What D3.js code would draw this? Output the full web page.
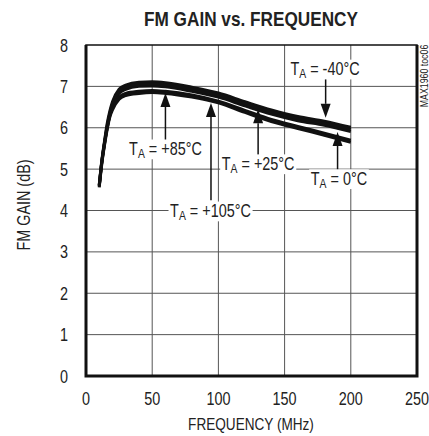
<!DOCTYPE html>
<html>
<head>
<meta charset="utf-8">
<script src="https://cdn.jsdelivr.net/npm/d3@7"></script>
<style>
  body { margin: 0; background: #fff; }
  text { font-family: "Liberation Sans", Arial, sans-serif; fill: #222; }
</style>
</head>
<body>
<div class="chart"></div>
<script>
// chart data
var freq = [10, 12, 14, 16, 18, 20, 25, 30, 40, 50, 60, 80, 100, 120, 140, 160, 180, 200];
var gainM40 = [4.62, 5.22, 5.68, 6.1, 6.4, 6.63, 6.93, 7.03, 7.1, 7.11, 7.09, 6.98, 6.84, 6.63, 6.43, 6.27, 6.16, 6.01];
var gain0 = [4.58, 5.18, 5.62, 6.0, 6.3, 6.53, 6.83, 6.93, 7.0, 7.01, 6.99, 6.88, 6.74, 6.53, 6.33, 6.17, 6.06, 5.91];
var gain25 = [4.6, 5.2, 5.65, 6.05, 6.35, 6.58, 6.88, 6.98, 7.05, 7.06, 7.04, 6.93, 6.79, 6.58, 6.38, 6.22, 6.11, 5.96];
var gain85 = [4.6, 5.18, 5.62, 6.0, 6.3, 6.48, 6.74, 6.83, 6.88, 6.9, 6.88, 6.79, 6.64, 6.42, 6.2, 6.03, 5.87, 5.7];
var gain105 = [4.56, 5.14, 5.58, 5.96, 6.26, 6.43, 6.69, 6.78, 6.83, 6.85, 6.83, 6.74, 6.6, 6.37, 6.15, 5.98, 5.82, 5.65];

var xTicks = [0, 50, 100, 150, 200, 250];
var yTicks = [0, 1, 2, 3, 4, 5, 6, 7, 8];

// temperature labels: label text, label centre (MHz, dB), arrow x (MHz), arrow tail and tip (dB)
var labelTemp = ["-40°C", "+85°C", "+25°C", "0°C", "+105°C"];
var labelX = [180.5, 60, 130, 191, 94];
var labelY = [7.27, 5.34, 4.98, 4.62, 3.84];
var arrowX = [181, 60, 130, 190, 94.4];
var arrowTail = [7.18, 5.7, 5.32, 4.95, 4.25];
var arrowTip = [6.24, 6.84, 6.45, 5.9, 6.6];

var svgWidth = 429, svgHeight = 436;
var margin = { top: 45, right: 12, bottom: 60, left: 86 };
var width = svgWidth - margin.left - margin.right;
var height = svgHeight - margin.top - margin.bottom;
var narrow = 0.8;  // squeeze glyphs to look like a condensed face

var svg = d3.select(".chart").append("svg")
  .attr("width", svgWidth)
  .attr("height", svgHeight);

var chart = svg.append("g")
  .attr("transform", "translate(" + margin.left + "," + margin.top + ")");

var xScale = d3.scaleLinear().domain([0, 250]).range([0, width]);
var yScale = d3.scaleLinear().domain([0, 8]).range([height, 0]);

// put a condensed text at x,y (optionally rotated)
function addText(parent, x, y, anchor, size, rot) {
  var g = parent.append("g")
    .attr("transform", "translate(" + x + "," + y + ")" + (rot ? "rotate(" + rot + ")" : "") + "scale(" + narrow + ",1)");
  return g.append("text")
    .attr("text-anchor", anchor)
    .attr("font-size", size + "px");
}

// grid
chart.selectAll(".vgrid")
  .data(xTicks.slice(1, -1))
  .enter().append("line")
  .attr("x1", d => xScale(d)).attr("x2", d => xScale(d))
  .attr("y1", 0).attr("y2", height)
  .attr("stroke", "#555").attr("stroke-width", 1);

chart.selectAll(".hgrid")
  .data(yTicks.slice(1, -1))
  .enter().append("line")
  .attr("x1", 0).attr("x2", width)
  .attr("y1", d => yScale(d)).attr("y2", d => yScale(d))
  .attr("stroke", "#555").attr("stroke-width", 1);

// curves
var series = [gainM40, gain0, gain25, gain85, gain105];
var line = d3.line()
  .x((d, i) => xScale(freq[i]))
  .y(d => yScale(d))
  .curve(d3.curveMonotoneX);

chart.selectAll(".curve")
  .data(series)
  .enter().append("path")
  .attr("d", line)
  .attr("fill", "none")
  .attr("stroke", "#111")
  .attr("stroke-width", 3)
  .attr("stroke-linejoin", "round");

// arrows
labelTemp.forEach(function(t, i) {
  var x = xScale(arrowX[i]);
  var tail = yScale(arrowTail[i]);
  var tip = yScale(arrowTip[i]);
  var dir = tip < tail ? 1 : -1;  // 1 = pointing up
  var headLen = 14, headW = 5;
  chart.append("line")
    .attr("x1", x).attr("x2", x)
    .attr("y1", tail).attr("y2", tip + dir * headLen)
    .attr("stroke", "#111").attr("stroke-width", 1.5);
  chart.append("path")
    .attr("d", "M" + x + "," + tip + "L" + (x - headW) + "," + (tip + dir * headLen) + "L" + (x + headW) + "," + (tip + dir * headLen) + "Z")
    .attr("fill", "#111");
});

// labels with white backing
labelTemp.forEach(function(t, i) {
  var txt = addText(chart, xScale(labelX[i]), yScale(labelY[i]), "middle", 18);
  txt.append("tspan").text("T");
  txt.append("tspan").attr("font-size", "13px").attr("dy", 3).text("A");
  txt.append("tspan").attr("dy", -3).text(" = " + t);
  var bb = txt.node().getBBox();
  d3.select(txt.node().parentNode).insert("rect", "text")
    .attr("x", bb.x - 2).attr("y", bb.y + 1)
    .attr("width", bb.width + 4).attr("height", bb.height - 2)
    .attr("fill", "#fff");
});

// frame
chart.append("rect")
  .attr("x", 0).attr("y", 0)
  .attr("width", width).attr("height", height)
  .attr("fill", "none").attr("stroke", "#111").attr("stroke-width", 1.5);
chart.append("path")
  .attr("d", "M0,0V" + height + "H" + width + "V0")
  .attr("fill", "none").attr("stroke", "#111").attr("stroke-width", 3);

// tick labels
yTicks.forEach(function(d) {
  addText(chart, -18, yScale(d) + 6.5, "end", 18).text(d);
});
xTicks.forEach(function(d) {
  addText(chart, xScale(d), height + 29, "middle", 18).text(d);
});

// titles
svg.append("text")
  .attr("x", 251).attr("y", 26)
  .attr("text-anchor", "middle")
  .attr("font-size", "21px")
  .attr("font-weight", "bold")
  .attr("fill", "#111")
  .attr("textLength", 214)
  .attr("lengthAdjust", "spacingAndGlyphs")
  .text("FM GAIN vs. FREQUENCY");

addText(svg, 251, 430, "middle", 17).text("FREQUENCY (MHz)");
addText(svg, 30, 205, "middle", 18, -90).text("FM GAIN (dB)");
addText(svg, 428, 76, "middle", 11, -90).attr("fill", "#555").text("MAX1960 toc06");
</script>
</body>
</html>
